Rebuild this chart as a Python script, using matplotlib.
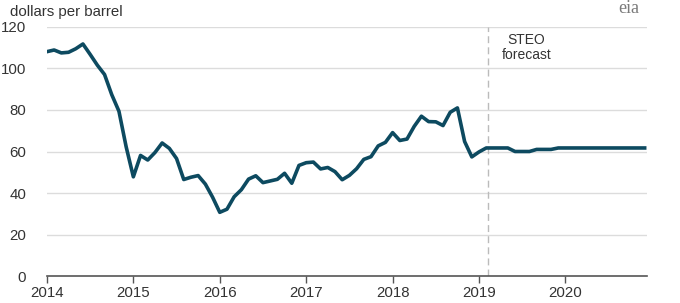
import matplotlib
matplotlib.use("Agg")
import matplotlib.pyplot as plt
import numpy as np

plt.rcParams['font.family'] = ['Liberation Sans', 'DejaVu Sans']

# Monthly Brent spot price, Jan 2014 - Dec 2020 (history + STEO forecast)
prices = [
    # 2014
    108.1, 108.9, 107.5, 107.8, 109.5, 111.8, 106.8, 101.6, 97.1, 87.4, 79.4, 62.3,
    # 2015
    47.8, 58.1, 55.9, 59.5, 64.1, 61.5, 56.6, 46.5, 47.6, 48.4, 44.3, 38.0,
    # 2016
    30.7, 32.2, 38.2, 41.6, 46.7, 48.3, 45.0, 45.8, 46.6, 49.5, 44.7, 53.3,
    # 2017
    54.6, 54.9, 51.6, 52.3, 50.3, 46.4, 48.5, 51.7, 56.2, 57.5, 62.7, 64.4,
    # 2018
    69.1, 65.3, 66.0, 72.1, 77.0, 74.4, 74.3, 72.5, 78.9, 81.0, 64.8, 57.4,
    # 2019
    59.8, 61.7, 61.7, 61.7, 61.7, 60.0, 60.0, 60.0, 61.0, 61.0, 61.0, 61.7,
    # 2020
    61.7, 61.7, 61.7, 61.7, 61.7, 61.7, 61.7, 61.7, 61.7, 61.7, 61.7, 61.7,
]
start_year = 2014
forecast_start = 2019.1
year_ticks = [2014, 2015, 2016, 2017, 2018, 2019, 2020]
y_ticks = [0, 20, 40, 60, 80, 100, 120]

x = start_year + np.arange(len(prices)) / 12.0

fig = plt.figure(figsize=(6.8, 3.03), dpi=100)
ax = fig.add_axes([0.069, 0.089, 0.882, 0.822])

for yv in y_ticks[1:]:
    ax.axhline(yv, color='#dcdcdc', lw=1.0, zorder=1)

ax.plot(x, prices, color='#0d4a60', lw=2.6, zorder=3, solid_joinstyle='round')
ax.axvline(forecast_start, color='#bbbbbb', lw=1.0, ls=(0, (5, 3)), zorder=2)

ax.set_xlim(2014, 2020.94)
ax.set_ylim(0, 120)
ax.set_xticks(year_ticks)
ax.set_xticklabels([str(y) for y in year_ticks])
ax.set_yticks(y_ticks)
ax.tick_params(axis='x', direction='out', length=5, width=1, color='#555555',
               labelsize=10.8, labelcolor='#333333', pad=2)
ax.tick_params(axis='y', length=0, labelsize=10.8, labelcolor='#333333', pad=15)

for s in ['top', 'right', 'left']:
    ax.spines[s].set_visible(False)
ax.spines['bottom'].set_color('#555555')
ax.spines['bottom'].set_linewidth(1.2)

fig.text(0.014, 0.985, 'dollars per barrel', fontsize=10.8, color='#333333', va='top', ha='left')
ax.text(2019.55, 117, 'STEO\nforecast', fontsize=10, color='#333333', ha='center', va='top',
        linespacing=1.05)
fig.text(0.94, 1.0, 'eia', fontsize=13, color='#7a7a7a', va='top', ha='right',
         family=['Liberation Serif', 'DejaVu Serif'])

fig.savefig('out.png', dpi=100)
